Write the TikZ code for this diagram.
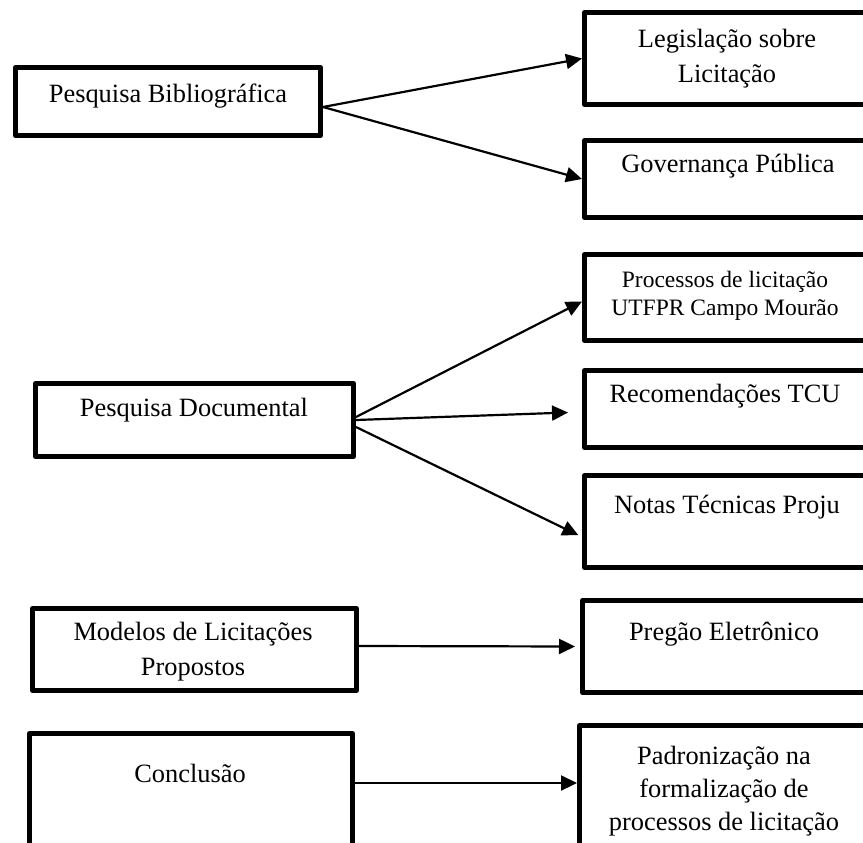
\documentclass[tikz,border=0pt]{standalone}
\usepackage{fontspec}
\setmainfont{Liberation Serif}
\usetikzlibrary{arrows.meta}

\begin{document}
\begin{tikzpicture}[x = 0.5pt, y = -0.5pt]
\tikzstyle{caixa} = [shape = rectangle, draw, line width = 2.5pt, line join = round, inner sep = 0pt, minimum width = 142.5pt]
\tikzstyle{texto} = [align = center, inner sep = 0pt, font = \fontsize{13.2}{17.5}\selectfont]
\tikzstyle{textoMenor} = [align = center, inner sep = 0pt, font = \fontsize{11.75}{14}\selectfont]
\tikzstyle{seta} = [line width = 1.1pt, -{Triangle[length = 8pt, width = 7.5pt]}]
\path[use as bounding box, clip] (0,0) rectangle (863,842);
% caixas da esquerda
\node[caixa, minimum width = 152.5pt, minimum height = 34pt] (pb) at (168,101.5) {};
\node[caixa, minimum width = 159pt, minimum height = 36.5pt] (pd) at (194.5,420) {};
\node[caixa, minimum width = 162pt, minimum height = 41pt] (mod) at (194.5,649.5) {};
\node[caixa, minimum width = 161.5pt, minimum height = 75pt] (conc) at (191,808.5) {};
% caixas da direita
\node[caixa, minimum height = 46pt] (leg) at (727,58.5) {};
\node[caixa, minimum height = 38.5pt] (gov) at (727,179) {};
\node[caixa, minimum height = 43pt] (proc) at (727,297.5) {};
\node[caixa, minimum height = 38.5pt] (rec) at (727,409) {};
\node[caixa, minimum height = 46pt] (notas) at (727,521.5) {};
\node[caixa, minimum height = 46pt] (preg) at (725,646.5) {};
\node[caixa, minimum width = 144.5pt, minimum height = 75pt] (padr) at (724,800.5) {};
% textos
\node[texto] (pbT) at (168,96) {Pesquisa Bibliográfica};
\node[texto] (pdT) at (194,410) {Pesquisa Documental};
\node[texto] (modT) at (193,652) {Modelos de Licitações\\Propostos};
\node[texto] (concT) at (190,773) {Conclusão};
\node[texto] (legT) at (727,59) {Legislação sobre\\Licitação};
\node[texto] (govT) at (728,166) {Governança Pública};
\node[textoMenor] (procT) at (725,296) {Processos de licitação\\UTFPR Campo Mourão};
\node[texto] (recT) at (725,396) {Recomendações TCU};
\node[texto] (notasT) at (727,507) {Notas Técnicas Proju};
\node[texto] (pregT) at (724,634) {Pregão Eletrônico};
\node[texto, font = \fontsize{13.2}{16.5}\selectfont] (padrT) at (724,791) {Padronização na\\formalização de\\processos de licitação};
% setas
\draw[seta] ([yshift = -2.75pt]pb.east) -- (leg.west);
\draw[seta] ([yshift = -2.75pt]pb.east) -- (gov.west);
\draw[seta] ([yshift = 1.5pt]pd.east) -- ([yshift = -2pt]proc.west);
\draw[seta, shorten > = 7pt] (pd.east) -- ([yshift = -1.5pt]rec.west);
\draw[seta, shorten > = 2pt] ([yshift = -3.5pt]pd.east) -- ([yshift = -7.75pt]notas.west);
\draw[seta, shorten > = 2.5pt] ([yshift = 1.75pt]mod.east) -- (preg.west);
\draw[seta] ([yshift = 12.75pt]conc.east) -- ([yshift = 8.75pt]padr.west);
\end{tikzpicture}
\end{document}
